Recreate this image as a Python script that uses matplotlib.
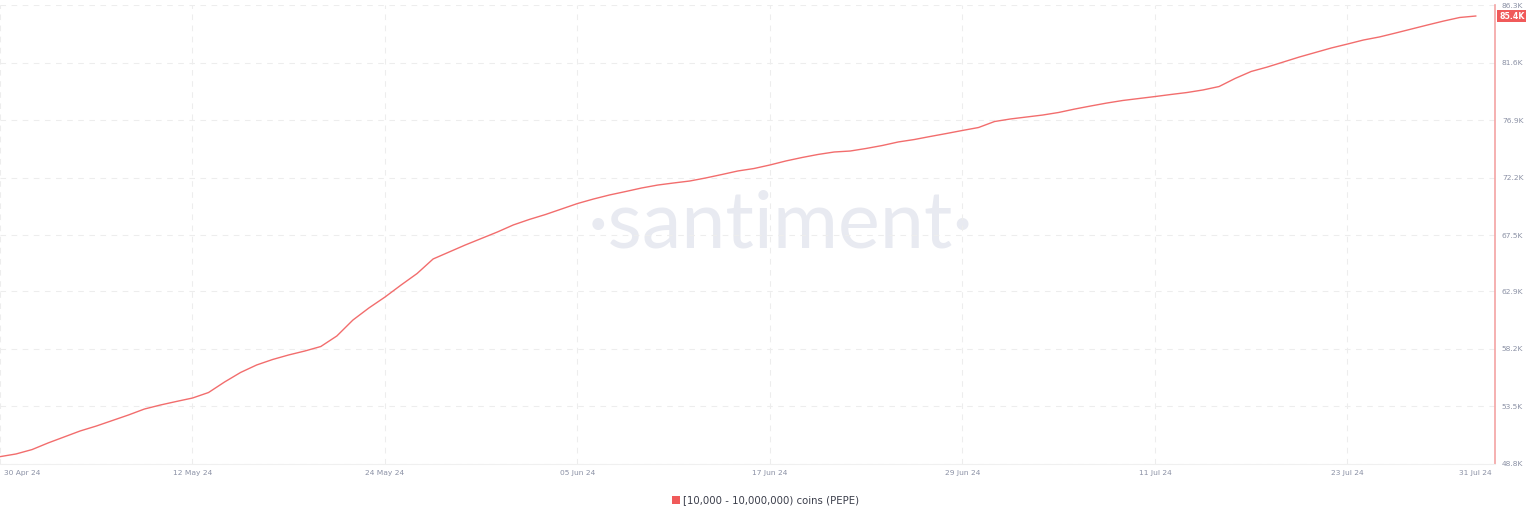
"""
PEPE holders with 10k - 10M coins, 30 Apr - 31 Jul 2024 (Santiment style chart).
Saves out.png.
"""
import matplotlib
matplotlib.use("Agg")
import matplotlib.pyplot as plt
import matplotlib.transforms as mtrans
from matplotlib.patches import Rectangle
import pandas as pd

# ---- data (thousands of addresses) -----------------------------------------
start_date = "2024-04-30"
holders_k = [
    49.40, 49.62, 49.98, 50.52, 51.01, 51.50, 51.90, 52.35, 52.80, 53.29,
    53.62, 53.91, 54.19, 54.64, 55.50, 56.28, 56.89, 57.34, 57.71, 58.03,
    58.40, 59.26, 60.56, 61.55, 62.44, 63.42, 64.36, 65.55, 66.12, 66.69,
    67.22, 67.75, 68.33, 68.78, 69.18, 69.63, 70.08, 70.45, 70.78, 71.06,
    71.35, 71.59, 71.76, 71.92, 72.17, 72.45, 72.74, 72.94, 73.23, 73.56,
    73.84, 74.09, 74.29, 74.37, 74.58, 74.82, 75.11, 75.31, 75.56, 75.80,
    76.05, 76.29, 76.78, 76.99, 77.15, 77.31, 77.52, 77.80, 78.05, 78.29,
    78.50, 78.66, 78.82, 78.99, 79.15, 79.36, 79.64, 80.30, 80.87, 81.23,
    81.64, 82.05, 82.42, 82.79, 83.11, 83.44, 83.69, 84.01, 84.34, 84.67,
    84.99, 85.28, 85.40,
]
y_ticks = [48.8, 53.5, 58.2, 62.9, 67.5, 72.2, 76.9, 81.6, 86.3]
x_tick_dates = ["2024-04-30", "2024-05-12", "2024-05-24", "2024-06-05",
                "2024-06-17", "2024-06-29", "2024-07-11", "2024-07-23",
                "2024-07-31"]
series_label = "[10,000 - 10,000,000) coins (PEPE)"

dates = pd.date_range(start_date, periods=len(holders_k), freq="D")
tick_dates = pd.to_datetime(x_tick_dates)

LINE = "#f26d6d"
TXT = "#8b91a5"
GRID = "#ededed"

# ---- chart ------------------------------------------------------------------
fig = plt.figure(figsize=(15.36, 5.2), dpi=100)
ax = fig.add_axes([0.0, 1 - 464 / 520, 1495 / 1536, (464 - 5) / 520])

# watermark
ax.text(0.522, 0.52, "·santiment·", transform=ax.transAxes, ha="center",
        va="center", fontsize=57, family="Lato", color="#e8eaf1", zorder=0)

ax.plot(dates, holders_k, color=LINE, lw=1.0, zorder=3)

ax.set_xlim(dates[0], dates[0] + pd.Timedelta(days=93.2))
ax.set_ylim(y_ticks[0], y_ticks[-1])

ax.yaxis.tick_right()
ax.set_yticks(y_ticks)
ax.set_yticklabels([f"{v:.1f}K" for v in y_ticks])
ax.set_xticks(tick_dates)
ax.set_xticklabels([d.strftime("%d %b %y") for d in tick_dates])
ax.tick_params(axis="both", length=0, labelsize=5.4, labelcolor=TXT)
ax.tick_params(axis="y", pad=5)
ax.tick_params(axis="x", pad=4)
first = ax.get_xticklabels()[0]
first.set_horizontalalignment("left")
first.set_transform(first.get_transform()
                    + mtrans.ScaledTranslation(4 / 100, 0, fig.dpi_scale_trans))

# grid: dashed, skip the closing date tick
for v in y_ticks:
    ax.axhline(v, color=GRID, lw=0.8, ls=(0, (5, 5)), zorder=1)
for d in tick_dates[:-1]:
    ax.axvline(d, color=GRID, lw=0.8, ls=(0, (5, 5)), zorder=1)

for s in ("top", "left"):
    ax.spines[s].set_visible(False)
ax.spines["bottom"].set_color("#f0f0f0")
ax.spines["right"].set_color("#f4a3a3")
ax.spines["right"].set_linewidth(1.2)

# last value badge
ax.annotate(f"{holders_k[-1]:.1f}K", xy=(1, holders_k[-1]),
            xycoords=("axes fraction", "data"), xytext=(3, 0),
            textcoords="offset points", ha="left", va="center",
            fontsize=5.6, color="white", weight="bold",
            bbox=dict(boxstyle="square,pad=0.25", fc="#f05a5a", ec="none"))

# legend
fig.patches.append(Rectangle((672 / 1536, 1 - 504 / 520), 8 / 1536, 8 / 520,
                             transform=fig.transFigure, fc="#f05a5a", ec="none"))
fig.text(683 / 1536, 1 - 500 / 520, series_label, color="#3a3d4a",
         fontsize=7.3, ha="left", va="center")

fig.savefig("out.png", dpi=100, facecolor="white")
